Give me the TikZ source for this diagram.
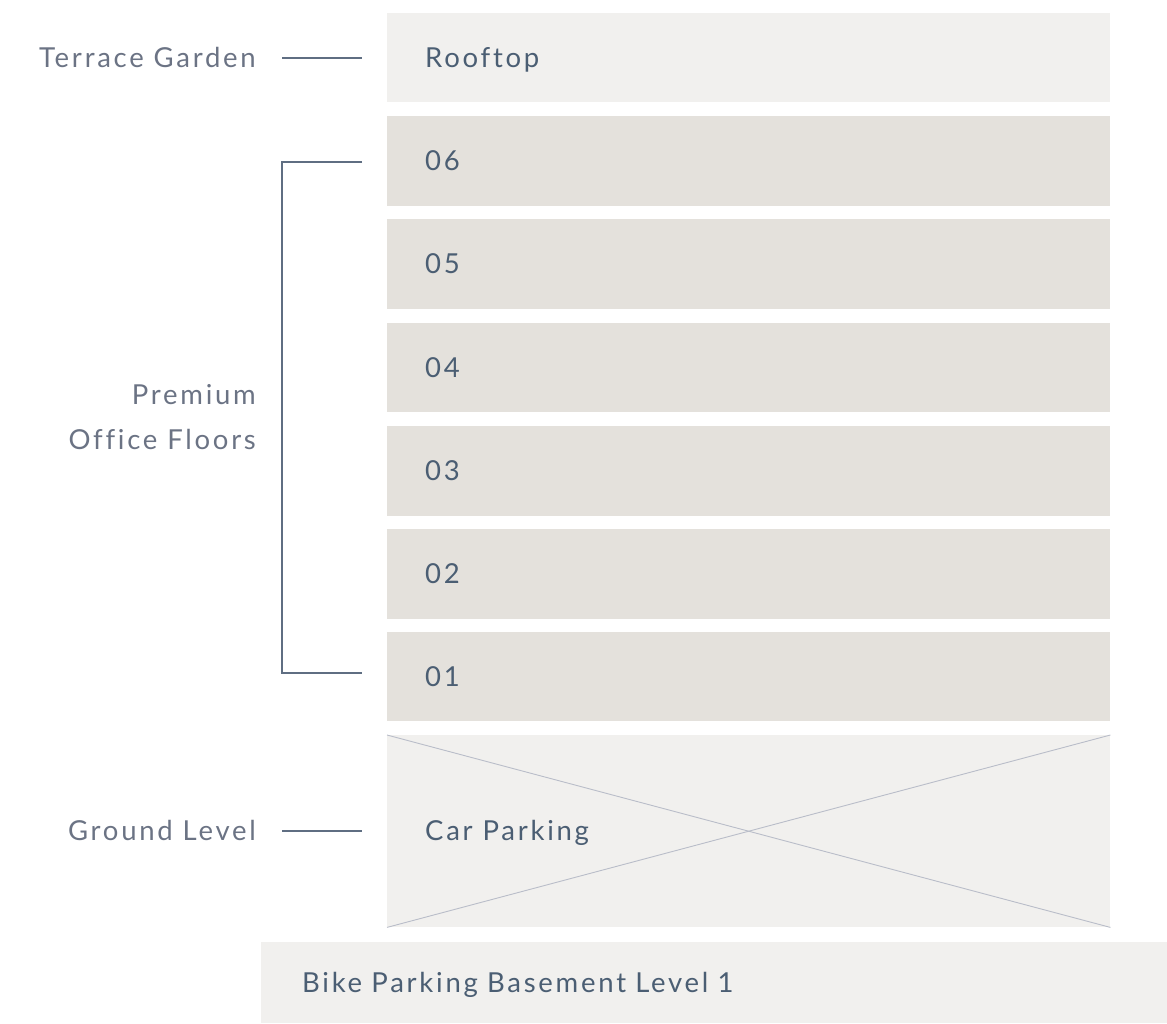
\documentclass[tikz,border=0pt]{standalone}
\usepackage{fontspec}
\setmainfont{Lato}[LetterSpace=10,Ligatures=NoCommon]
\definecolor{lightfloor}{HTML}{F1F0EE}
\definecolor{darkfloor}{HTML}{E4E1DC}
\definecolor{boxtext}{HTML}{4B5E73}
\definecolor{sidetext}{HTML}{6B7384}
\definecolor{leader}{HTML}{5F6E82}
\definecolor{cross}{HTML}{B9BDC9}
\begin{document}
\begin{tikzpicture}[x=1pt,y=-1pt,
  floorbox/.style={anchor=north west, draw=none, inner xsep=38pt, inner ysep=0pt,
    text width=#1, align=left, font=\fontsize{27.5}{30}\selectfont, text=boxtext,
    text height=19.5pt, text depth=0pt},
  floorbox/.default=647pt,
  sidelabel/.style={anchor=east, align=right, inner sep=0pt, font=\fontsize{27.5}{45}\selectfont,
    text=sidetext, text height=19.5pt, text depth=0pt},
  leaderline/.style={draw=leader, line width=1.2pt}]
\useasboundingbox (0,0) rectangle (1167,1023);
\node[floorbox, fill=lightfloor, minimum height=89pt] (roof) at (387,13) {Rooftop};
\node[floorbox, fill=darkfloor, minimum height=90pt] (f6) at (387,116) {06};
\node[floorbox, fill=darkfloor, minimum height=90pt] (f5) at (387,219) {05};
\node[floorbox, fill=darkfloor, minimum height=89pt] (f4) at (387,323) {04};
\node[floorbox, fill=darkfloor, minimum height=90pt] (f3) at (387,426) {03};
\node[floorbox, fill=darkfloor, minimum height=90pt] (f2) at (387,529) {02};
\node[floorbox, fill=darkfloor, minimum height=89pt] (f1) at (387,632) {01};
\node[floorbox, fill=lightfloor, minimum height=192pt] (car) at (387,735) {};
\draw[cross, line width=0.9pt] (car.north west) -- (car.south east);
\draw[cross, line width=0.9pt] (car.south west) -- (car.north east);
\node[anchor=west, inner sep=0pt, font=\fontsize{27.5}{30}\selectfont, text=boxtext,
  text height=19.5pt, text depth=0pt] (cartext) at (425,831) {Car Parking};
\node[floorbox=830pt, fill=lightfloor, minimum height=81pt, inner xsep=41pt] (bike) at (261,942) {Bike Parking Basement Level 1};

\node[sidelabel] (terrace) at (256,58) {Terrace Garden};
\node[sidelabel] (premium) at (256,395) {Premium};
\node[sidelabel] (office) at (256,440) {Office Floors};
\node[sidelabel] (ground) at (256,831) {Ground Level};

\coordinate (t1) at (282,58);
\coordinate (t2) at (362,58);
\draw[leaderline] (t1) -- (t2);
\coordinate (b1) at (362,162);
\coordinate (b2) at (282,162);
\coordinate (b3) at (282,673);
\coordinate (b4) at (362,673);
\draw[leaderline] (b1) -- (b2) -- (b3) -- (b4);
\coordinate (g1) at (282,831);
\coordinate (g2) at (362,831);
\draw[leaderline] (g1) -- (g2);
\end{tikzpicture}
\end{document}
